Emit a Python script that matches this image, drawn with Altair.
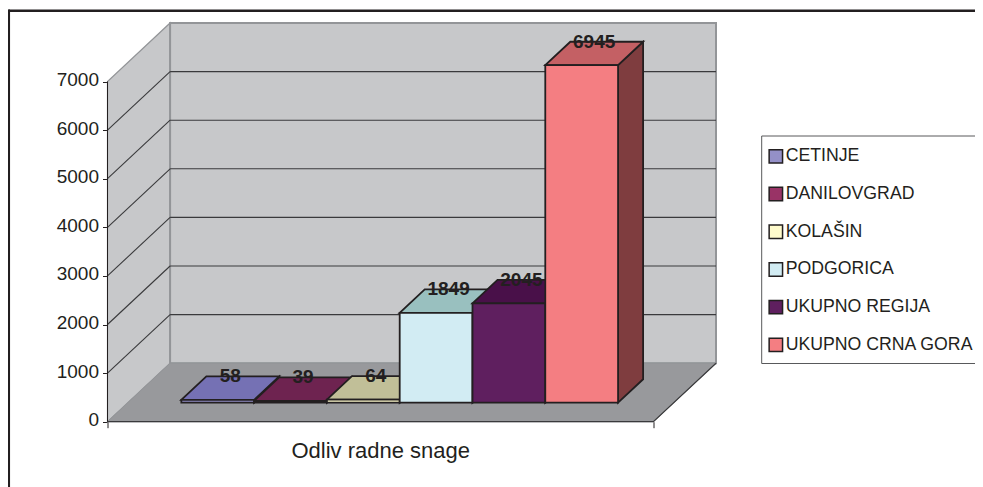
import altair as alt
import pandas as pd

names = ["CETINJE", "DANILOVGRAD", "KOLAŠIN", "PODGORICA", "UKUPNO REGIJA", "UKUPNO CRNA GORA"]
values = [58, 39, 64, 1849, 2045, 6945]
front_colors = ["#9490C8", "#993366", "#FFFBCC", "#D2ECF3", "#5F1F5F", "#F47E82"]
top_colors = ["#7571B4", "#6E2350", "#C1BF98", "#99C0BF", "#491049", "#C46064"]
side_colors = ["#5A5690", "#5A2040", "#99977A", "#7D9A9A", "#3A0C3A", "#7F3D3F"]
y_ticks = [0, 1000, 2000, 3000, 4000, 5000, 6000, 7000]
grid_values = [1000, 2000, 3000, 4000, 5000, 6000]
axis_title = "Odliv radne snage"

# oblique projection of the box, in data units
AXIS_TOP = 7000
SLOTS = 7.5
GAP = 0.735
DX = 0.86
DY = 1204
Z1, Z2 = 0.325, 0.725
XDOM = [0, SLOTS + DX]
YDOM = [0, AXIS_TOP + DY]
INK = "#231f20"
FONT = "Liberation Sans"

x_axis = alt.Axis(values=[0, SLOTS], labels=False, domain=False, grid=False, tickSize=6,
                  tickColor=INK, tickWidth=1, title=axis_title, titleFont=FONT, titleFontSize=22,
                  titleFontWeight="normal", titleColor=INK, titleX=272.7, titleY=28.5,
                  titleBaseline="middle")
y_axis = alt.Axis(values=y_ticks, format="d", domain=False, grid=False, tickSize=5, tickColor=INK,
                  tickWidth=1, labelFont=FONT, labelFontSize=19, labelColor=INK, labelPadding=4,
                  labelOffset=-2, title=None)


def X(f="x", **kw):
    return alt.X(f, type="quantitative", scale=alt.Scale(domain=XDOM, nice=False, zero=False), axis=x_axis, **kw)


def Y(f="y", **kw):
    return alt.Y(f, type="quantitative", scale=alt.Scale(domain=YDOM, nice=False, zero=False), axis=y_axis, **kw)


sides, tops, fronts, labels = [], [], [], []
for i, (n, v) in enumerate(zip(names, values)):
    l, r = GAP + i, GAP + i + 1
    for z in (Z1, Z2):
        sides.append(dict(n=n, c=side_colors[i], x=r + DX * z, y=DY * z, y2=v + DY * z))
        tops.append(dict(n=n, c=top_colors[i], y=v + DY * z, x=l + DX * z, x2=r + DX * z))
    fronts.append(dict(n=n, x=l + DX * Z1, x2=r + DX * Z1, y=DY * Z1, y2=v + DY * Z1))
    labels.append(dict(t=str(v), x=(l + r) / 2 + DX * (Z1 + Z2) / 2, y=v + DY * Z2))

left_wall = pd.DataFrame([dict(x=0, y=0, y2=AXIS_TOP), dict(x=DX, y=DY, y2=AXIS_TOP + DY)])
floor = pd.DataFrame([dict(y=0, x=0, x2=SLOTS), dict(y=DY, x=DX, x2=SLOTS + DX)])
back_wall = pd.DataFrame([dict(x=DX, x2=SLOTS + DX, y=DY, y2=AXIS_TOP + DY)])
grid_rows = []
for v in grid_values:
    grid_rows += [dict(g=f"l{v}", x=0, y=v), dict(g=f"l{v}", x=DX, y=v + DY),
                  dict(g=f"b{v}", x=DX, y=v + DY), dict(g=f"b{v}", x=SLOTS + DX, y=v + DY)]
grid = pd.DataFrame(grid_rows)
edge = pd.DataFrame([dict(x=0, y=0), dict(x=SLOTS, y=0), dict(x=SLOTS + DX, y=DY)])

wall_l = alt.Chart(left_wall).mark_area(fill="#C7C8CA", stroke="#939598", strokeWidth=1.2).encode(
    x=X(), y=Y(), y2=alt.Y2("y2"))
wall_b = alt.Chart(back_wall).mark_rect(fill="#C7C8CA", stroke="#939598", strokeWidth=2).encode(
    x=X(), x2=alt.X2("x2"), y=Y(), y2=alt.Y2("y2"))
floor_m = alt.Chart(floor).mark_area(orient="horizontal", fill="#98999C", stroke="#939598", strokeWidth=1).encode(
    y=Y(), x=X(), x2=alt.X2("x2"))
grid_m = alt.Chart(grid).mark_line(color="#3a3a3c", strokeWidth=1.1).encode(x=X(), y=Y(), detail="g:N")
edge_m = alt.Chart(edge).mark_line(color="#3a3a3c", strokeWidth=1.2).encode(x=X(), y=Y())
axis_rule = alt.Chart(pd.DataFrame({"y": [0], "y2": [AXIS_TOP]})).mark_rule(color=INK, strokeWidth=1).encode(
    x=alt.value(0), y=Y(), y2=alt.Y2("y2"))

side_m = alt.Chart(pd.DataFrame(sides)).mark_area(stroke=INK, strokeWidth=1.8).encode(
    x=X(), y=Y(), y2=alt.Y2("y2"), detail="n:N", color=alt.Color("c:N", scale=None))
top_m = alt.Chart(pd.DataFrame(tops)).mark_area(orient="horizontal", stroke=INK, strokeWidth=1.8).encode(
    y=Y(), x=X(), x2=alt.X2("x2"), detail="n:N", color=alt.Color("c:N", scale=None))
front_m = alt.Chart(pd.DataFrame(fronts)).mark_rect(stroke=INK, strokeWidth=1.8).encode(
    x=X(), x2=alt.X2("x2"), y=Y(), y2=alt.Y2("y2"),
    color=alt.Color("n:N", scale=alt.Scale(domain=names, range=front_colors), sort=names,
                    legend=alt.Legend(title=None, orient="none", legendX=659.5, legendY=124.5,
                                      padding=0, rowPadding=17.7, symbolType="square",
                                      symbolSize=180, symbolStrokeWidth=1.5, symbolStrokeColor=INK,
                                      labelOffset=1, labelFont=FONT, labelFontSize=17.7,
                                      labelColor=INK, labelLimit=400)))
text_m = alt.Chart(pd.DataFrame(labels)).mark_text(font=FONT, fontSize=19, fontWeight="bold", color=INK,
                                                   baseline="middle").encode(x=X(), y=Y(), text="t:N")

frame_top = alt.Chart(pd.DataFrame({"a": [1]})).mark_rule(color=INK, strokeWidth=2.5).encode(
    x=alt.value(-99), x2=alt.value(880), y=alt.value(-12.3))
frame_left = alt.Chart(pd.DataFrame({"a": [1]})).mark_rule(color=INK, strokeWidth=2.5).encode(
    x=alt.value(-98.7), y=alt.value(-13.5), y2=alt.value(470))
legend_box = alt.Chart(pd.DataFrame({"a": [1]})).mark_rect(fill="white", stroke="#58595b", strokeWidth=1).encode(
    x=alt.value(654.2), x2=alt.value(900), y=alt.value(113), y2=alt.value(340.5))

chart = alt.layer(
    wall_l, wall_b, floor_m, grid_m, edge_m, axis_rule, side_m, top_m, front_m, text_m,
    frame_top, frame_left, legend_box,
).resolve_scale(color="independent").properties(
    width=608.5, height=398.7,
    autosize=alt.AutoSizeParams(type="none"),
    padding={"left": 99.5, "top": 15, "right": 259, "bottom": 65.3},
    background="white",
).configure_view(stroke=None)

chart.save("out.html", embed_options={"renderer": "svg", "actions": False})
